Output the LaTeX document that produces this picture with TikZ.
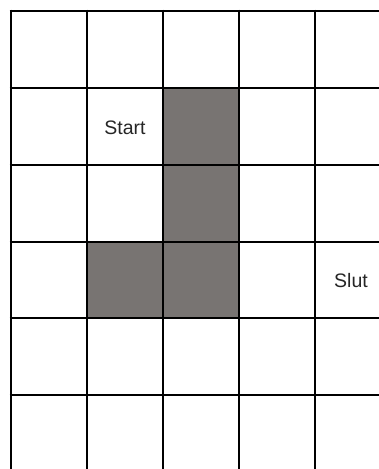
\documentclass[tikz,border=0pt]{standalone}
\usepackage{fontspec}
\setmainfont{Liberation Sans}
\begin{document}
\begin{tikzpicture}[x=1pt,y=-1pt,
  gridline/.style={line width=2.6pt,black},
  wall/.style={fill=wallgray,draw=none},
  lbl/.style={font=\fontsize{19.5}{21}\selectfont,text=black!85}]
\definecolor{wallgray}{HTML}{787472}
\useasboundingbox (0,0) rectangle (378,469);
\fill[white] (0,0) rectangle (378,469);
% shaded cells
\fill[wall] (163,88) rectangle (239,318);
\fill[wall] (87,242) rectangle (163,318);
% grid lines
\foreach \x in {11,87,163,239,315}
  \draw[gridline] (\x,9.7) -- (\x,470);
\foreach \y in {11,88,165,242,318,395}
  \draw[gridline] (9.7,\y) -- (380,\y);
% labels
\node[lbl] (start) at (125,127.5) {Start};
\node[lbl] (slut) at (351,281) {Slut};
\end{tikzpicture}
\end{document}
